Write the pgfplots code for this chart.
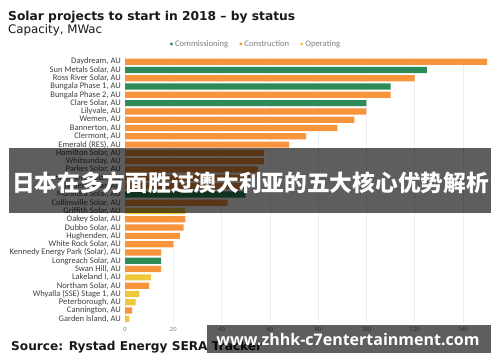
\documentclass[border=0pt]{standalone}
\usepackage{fontspec}
\usepackage{graphicx}
\usepackage{pgfplots}
\pgfplotsset{compat=1.18}
\setmainfont{Carlito}
\newfontfamily\titlefont{DejaVu Sans}
\newfontfamily\wmfont{Open Sans}
\newfontfamily\cjk{Noto Sans CJK SC}
\definecolor{comm}{RGB}{46,139,87}
\definecolor{cons}{RGB}{247,148,60}
\definecolor{oper}{RGB}{240,200,60}
\definecolor{lbl}{RGB}{64,64,64}
\definecolor{gridc}{RGB}{236,236,242}
\pgfplotsset{dotlegend/.style={legend image code/.code={\fill[##1] (0pt,0pt) circle (1.6pt);}}}
\begin{document}
\begin{tikzpicture}
\useasboundingbox (0,0) rectangle (500pt,-362pt);
\fill[white] (0,0) rectangle (500pt,-362pt);
\begin{axis}[
  at={(125pt,-323pt)}, anchor=south west,
  scale only axis, width=367pt, height=265.5pt,
  xmin=0, xmax=152, ymin=-0.5, ymax=31.5, y dir=reverse,
  ytick={0,...,31},
  yticklabels={{Daydream, AU},{Sun Metals Solar, AU},{Ross River Solar, AU},{Bungala Phase 1, AU},{Bungala Phase 2, AU},{Clare Solar, AU},{Lilyvale, AU},{Wemen, AU},{Bannerton, AU},{Clermont, AU},{Emerald (RES), AU},{Hamilton Solar, AU},{Whitsunday, AU},{Parkes Solar, AU},{Gannawarra Solar, AU},{Childers Solar, AU},{Manildra Solar, AU},{Collinsville Solar, AU},{Griffith Solar, AU},{Oakey Solar, AU},{Dubbo Solar, AU},{Hughenden, AU},{White Rock Solar, AU},{Kennedy Energy Park (Solar), AU},{Longreach Solar, AU},{Swan Hill, AU},{Lakeland I, AU},{Northam Solar, AU},{Whyalla (SSE) Stage 1, AU},{Peterborough, AU},{Cannington, AU},{Garden Island, AU}},
  yticklabel style={font=\fontsize{8.5}{8.5}\selectfont, text=lbl, inner xsep=0pt, xshift=-4pt},
  xtick={0,20,...,140},
  xticklabel style={font=\fontsize{6.5}{7}\selectfont, text=black!50, yshift=-1pt},
  /pgf/number format/assume math mode=true,
  xmajorgrids, major grid style={gridc, line width=0.7pt},
  axis line style={draw=none}, major tick length=0pt,
  legend columns=3,
  legend style={at={(0.357,1.051)}, anchor=center, draw=none, fill=none,
    font=\fontsize{8.6}{9}\selectfont, text=black!50, inner sep=0pt,
    /tikz/every even column/.append style={column sep=9pt}},
  legend cell align=left,
]
\addplot[xbar, bar width=6.2pt, bar shift=0pt, fill=comm, draw=none, dotlegend] coordinates {
  (125,1) (110,3) (100,5) (50,16) (15,24)};
\addlegendentry{Commissioning}
\addplot[xbar, bar width=6.2pt, bar shift=0pt, fill=cons, draw=none, dotlegend] coordinates {
  (150,0) (120,2) (110,4) (100,6) (95,7) (88,8) (75,9) (68,10) (57.5,11) (57.5,12) (55,13) (52,14) (50,15)
  (42.5,17) (25,19) (24.3,20) (22.8,21) (20,22) (15,23) (15,25) (10,27) (3,30)};
\addlegendentry{Construction}
\addplot[xbar, bar width=6.2pt, bar shift=0pt, fill=oper, draw=none, dotlegend] coordinates {
  (25,18) (10.8,26) (6,28) (4.4,29) (1.8,31)};
\addlegendentry{Operating}
\end{axis}
\node[anchor=base west, inner sep=0, text=black!90] at (8pt,-20.7pt) {\resizebox{287pt}{!}{\titlefont\bfseries Solar projects to start in 2018 – by status}};
\node[anchor=base west, inner sep=0, text=black!90] at (8pt,-33.5pt) {\resizebox{94pt}{!}{\titlefont Capacity, MWac}};
\node[anchor=base west, inner sep=0, text=black!90] at (11pt,-350pt) {\resizebox{251pt}{!}{\titlefont\bfseries Source: Rystad Energy SERA Tracker}};
\fill[black, opacity=0.63] (9pt,-148pt) rectangle (491pt,-213pt);
\node[text=white, inner sep=0] at (250.5pt,-183pt) {\resizebox{477pt}{!}{\cjk\bfseries 日本在多方面胜过澳大利亚的五大核心优势解析}};
\fill[black, opacity=0.63] (207pt,-325pt) rectangle (491pt,-353pt);
\node[text=white, inner sep=0, anchor=base] at (348pt,-345pt) {\resizebox{263pt}{!}{\wmfont\bfseries www.zhhk-c7entertainment.com}};
\end{tikzpicture}
\end{document}
